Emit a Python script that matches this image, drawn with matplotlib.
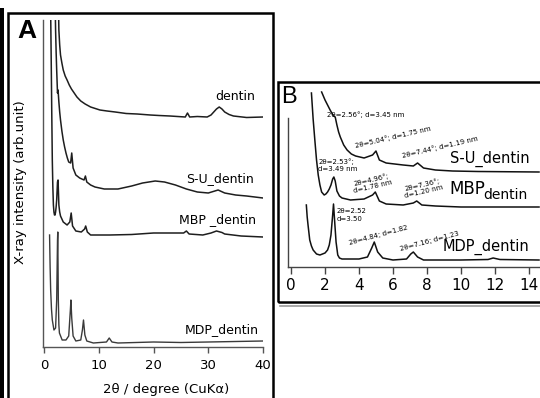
import matplotlib
matplotlib.use("Agg")
import matplotlib.pyplot as plt
from matplotlib.patches import Rectangle
from matplotlib.lines import Line2D

# ---------------- data (panel A, 2theta 0-40, stacked arbitrary units) ----------------
a_dentin_theta = [2.5, 2.6, 2.7, 2.85, 3.0, 3.25, 3.5, 3.85, 4.2, 4.6, 5.0, 5.5, 6.0, 6.7, 7.5,
                  8.5, 10.2, 11.5, 13, 15, 17, 19.4, 21, 23, 25.8, 26.2, 26.6, 28, 29.8, 30.5,
                  31, 31.5, 32.0, 32.5, 33, 33.8, 34.6, 37, 40]
a_dentin_int = [387, 350, 317, 302, 292, 284, 277, 271, 267, 262, 258, 254, 250, 246, 243,
                240, 237, 236, 235, 233.5, 233, 232, 231.5, 231, 230, 234, 230, 230.5, 230, 232,
                235, 238, 240, 238, 235, 232.5, 231, 229.5, 230]

a_su_theta = [1.9, 2.0, 2.1, 2.2, 2.3, 2.45, 2.55, 2.7, 2.85, 3.0, 3.25, 3.5, 3.75, 4.0, 4.25,
              4.5, 4.85, 5.05, 5.3, 5.8, 6.5, 7.3, 7.55, 7.8, 8.5, 9.3, 11, 13.5, 16, 18, 20.3,
              22, 24, 26, 28, 30, 31.8, 33, 35, 37, 40]
a_su_int = [387, 350, 317, 295, 277, 254, 257, 245, 235, 227, 216, 207, 200, 194, 189,
            185, 184, 194, 179, 172, 169, 167, 171, 165, 162, 160, 158, 158, 161, 164, 166,
            165, 162, 158, 155, 154, 157, 154, 152, 151, 149]

a_mbp_theta = [1.1, 1.2, 1.3, 1.4, 1.5, 1.6, 1.7, 1.8, 1.9, 2.0, 2.1, 2.2, 2.3, 2.45, 2.55, 2.7,
               2.85, 3.0, 3.5, 4.2, 4.7, 4.95, 5.2, 5.8, 6.8, 7.4, 7.6, 7.9, 8.5, 12, 16, 20,
               23, 25.5, 26, 26.5, 29, 30.5, 31.5, 32.5, 33, 36, 40]
a_mbp_int = [387, 335, 287, 235, 187, 160, 142, 135, 132, 132, 135, 140, 147, 165, 167, 142,
             135, 131, 125, 122, 125, 134, 121, 116, 115, 118, 121, 115, 112, 112, 112.5, 114,
             114, 114, 116, 113, 112, 114, 116, 114.5, 113, 111, 110]

a_mdp_theta = [1.0, 1.1, 1.2, 1.35, 1.5, 1.8, 2.1, 2.3, 2.45, 2.5, 2.6, 2.7, 2.8, 3.3, 4.0, 4.5,
               4.8, 4.9, 5.05, 5.3, 5.8, 6.7, 7.0, 7.2, 7.45, 7.8, 9, 11.4, 11.9, 12.4, 13.5,
               20, 25, 30, 40]
a_mdp_int = [112, 80, 57, 38, 27, 17, 19, 47, 107, 115, 47, 22, 14, 7, 7, 11,
             37, 47, 29, 11, 6, 7, 17, 27, 12, 6, 4, 5, 9, 5, 4,
             5, 4.5, 5, 6]

a_xticks = [0, 10, 20, 30, 40]

# ---------------- data (panel B, 2theta 0-14) ----------------
b_su_theta = [1.8, 1.9, 2.0, 2.15, 2.3, 2.5, 2.6, 2.7, 2.8, 2.9, 3.1, 3.3, 3.55, 3.8, 4.3, 4.8,
              5.0, 5.2, 5.6, 6.6, 7.2, 7.45, 7.8, 8.5, 9.5, 11, 14.6]
b_su_int = [175, 171, 167, 162, 157, 151, 150, 142, 135, 130, 122, 117, 113, 111, 109, 112,
            116, 107, 104, 102, 101, 104, 99, 97, 96, 95.5, 95]

b_mbp_theta = [1.2, 1.3, 1.4, 1.5, 1.6, 1.7, 1.8, 1.95, 2.05, 2.15, 2.25, 2.35, 2.45, 2.52,
               2.6, 2.7, 2.85, 3.0, 3.5, 4.3, 4.8, 4.96, 5.2, 5.6, 6.6, 7.2, 7.4, 7.7, 8.5,
               10, 14.6]
b_mbp_int = [174, 148, 127, 107, 92, 82, 75, 72, 73, 75, 78, 82, 88, 90,
             86, 76, 71, 69, 67, 68, 72, 75, 66, 63, 62, 64, 66, 62, 61,
             60, 60]

b_mdp_theta = [0.9, 0.95, 1.0, 1.1, 1.2, 1.3, 1.5, 1.7, 2.0, 2.15, 2.25, 2.35, 2.45, 2.5, 2.55,
               2.65, 2.75, 2.85, 3.0, 4.0, 4.5, 4.75, 4.9, 5.1, 5.4, 6.0, 6.8, 7.05, 7.2, 7.45,
               7.8, 10, 11.6, 11.9, 12.3, 14.6]
b_mdp_int = [62, 50, 42, 27, 21, 17, 13, 12, 14, 17, 22, 32, 52, 63, 50,
             25, 12, 9, 8, 8, 10, 19, 25, 15, 9, 7, 8, 13, 15, 10,
             7, 7, 7.5, 9, 7.5, 7]

b_xticks = [0, 2, 4, 6, 8, 10, 12, 14]

b_annotations = [
    ("2θ=2.56°; d=3.45 nm", 4.41, 152, 0, "center"),
    ("2θ=5.04°; d=1.75 nm", 6.0, 130, 13, "center"),
    ("2θ=7.44°; d=1.19 nm", 8.76, 120, 13, "center"),
    ("2θ=2.53°;\nd=3.49 nm", 1.59, 102, 0, "left"),
    ("2θ=4.96°;\nd=1.78 nm", 4.76, 84, 13, "center"),
    ("2θ=7.36°;\nd=1.20 nm", 7.76, 79, 13, "center"),
    ("2θ=2.52\nd=3.50", 2.7, 52, 0, "left"),
    ("2θ=4.84; d=1.82", 5.12, 32, 15, "center"),
    ("2θ=7.16; d=1.23", 8.18, 26, 15, "center"),
]

W, H = 540, 398
plt.rcParams['font.family'] = ['DejaVu Sans']
fig = plt.figure(figsize=(W / 100, H / 100), dpi=100)


def fx(px):
    return px / W


def fy(py):
    return 1 - py / H


# ---------------- panel A ----------------
axA = fig.add_axes([fx(43), fy(347), (263 - 43) / W, (347 - 20) / H])
axA.set_xlim(-0.2, 40)
axA.set_ylim(0, 327)
lc = "#1e1e1e"
axA.plot(a_dentin_theta, a_dentin_int, color=lc, lw=1.1)
axA.plot(a_su_theta, a_su_int, color=lc, lw=1.1)
axA.plot(a_mbp_theta, a_mbp_int, color=lc, lw=1.1)
axA.plot(a_mdp_theta, a_mdp_int, color="#3a3a3a", lw=1.0)
for s in ["top", "right"]:
    axA.spines[s].set_visible(False)
for s in ["left", "bottom"]:
    axA.spines[s].set_color("#555555")
    axA.spines[s].set_linewidth(1.0)
axA.set_yticks([])
axA.set_xticks(a_xticks)
axA.tick_params(axis="x", direction="out", length=4.5, width=1, color="#555555",
                labelsize=9.5, pad=4)
axA.text(34.9, 250, "dentin", fontsize=9, ha="center", va="center")
axA.text(32.2, 168, "S-U_dentin", fontsize=9, ha="center", va="center")
axA.text(31.6, 127, "MBP _dentin", fontsize=9, ha="center", va="center")
axA.text(32.5, 17, "MDP_dentin", fontsize=9, ha="center", va="center")

fig.text(fx(21), fy(182), "X-ray intensity (arb.unit)", rotation=90, ha="center",
         va="center", fontsize=9.5)
fig.text(fx(166), fy(389), "2θ / degree (CuKα)", ha="center", va="center", fontsize=9.5)
fig.text(fx(27), fy(31), "A", ha="center", va="center", fontsize=19, fontweight="bold",
         family="Liberation Sans")

# ---------------- panel B ----------------
axB = fig.add_axes([fx(288), fy(267), (539 - 288) / W, (267 - 90) / H])
axB.set_xlim(-0.18, 14.6)
axB.set_ylim(0, 177)
axB.plot(b_su_theta, b_su_int, color="#111111", lw=1.1, clip_on=False)
axB.plot(b_mbp_theta, b_mbp_int, color="#111111", lw=1.1, clip_on=False)
axB.plot(b_mdp_theta, b_mdp_int, color="#111111", lw=1.1, clip_on=False)
for s in ["top", "right"]:
    axB.spines[s].set_visible(False)
for s in ["left", "bottom"]:
    axB.spines[s].set_color("#444444")
    axB.spines[s].set_linewidth(1.0)
axB.spines["left"].set_bounds(0, 149)
axB.set_yticks([])
axB.set_xticks(b_xticks)
axB.tick_params(axis="x", direction="out", length=5, width=1, color="#444444",
                labelsize=11, pad=3)
for txt, x, y, rot, ha in b_annotations:
    axB.text(x, y, txt, fontsize=5, rotation=rot, ha=ha, va="center",
             rotation_mode="anchor", linespacing=1.3)
axB.text(11.7, 108, "S-U_dentin", fontsize=10.5, ha="center", va="center")
axB.text(9.35, 78, "MBP", fontsize=12, ha="left", va="center")
axB.text(11.3, 72, "dentin", fontsize=10, ha="left", va="center")
axB.text(11.47, 20, "MDP_dentin", fontsize=10.5, ha="center", va="center")
fig.text(fx(289), fy(97), "B", ha="center", va="center", fontsize=17,
         family="Liberation Sans")

# ---------------- frames ----------------
fig.patches.append(Rectangle((fx(0), fy(400)), 4 / W, (400 - 8) / H, transform=fig.transFigure,
                             facecolor="black", edgecolor="none"))
fig.patches.append(Rectangle((fx(8), fy(410)), (273 - 8) / W, (410 - 13) / H,
                             transform=fig.transFigure, facecolor="none", edgecolor="black",
                             lw=1.8))
fig.patches.append(Rectangle((fx(278), fy(302)), (560 - 278) / W, (302 - 82) / H,
                             transform=fig.transFigure, facecolor="none", edgecolor="black",
                             lw=1.8))
fig.lines.append(Line2D([fx(280), fx(540)], [fy(305.5), fy(305.5)], transform=fig.transFigure,
                        color="#999999", lw=1.2))

fig.savefig("out.png", dpi=100)
